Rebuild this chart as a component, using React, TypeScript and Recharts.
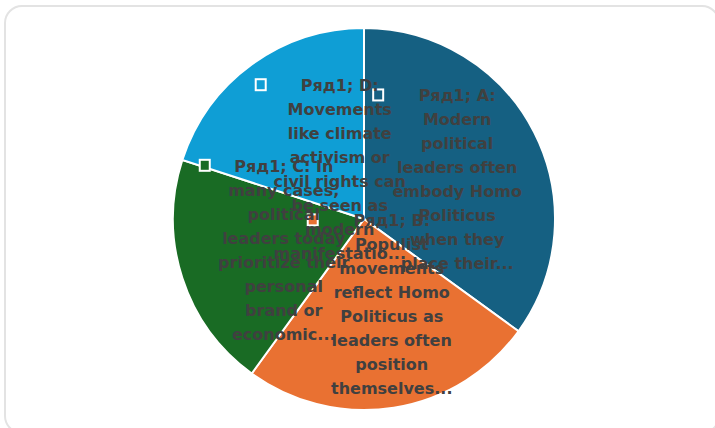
import React from 'react';
import { PieChart, Pie, Cell } from 'recharts';

// --- Data ---
const seriesName = 'Ряд1';
const categories = [
  'A:\nModern\npolitical\nleaders often\nembody Homo\nPoliticus\nwhen they\nplace their...',
  'B:\nPopulist\nmovements\nreflect Homo\nPoliticus as\nleaders often\nposition\nthemselves...',
  'C: In\nmany cases,\npolitical\nleaders today\nprioritize their\npersonal\nbrand or\neconomic...',
  'D:\nMovements\nlike climate\nactivism or\ncivil rights can\nbe seen as\nmodern\nmanifestatio...',
];
const values = [35, 25, 20, 20];
const colors = ['#156082', '#E97132', '#196B24', '#0F9ED5'];

// Excel "best fit" placement of each data label (radius fraction, angle nudge in deg)
const labelRadius = [0.53, 0.47, 0.45, 0.29];
const labelNudge = [-4, 9, 3, -10];

const data = categories.map((c, i) => ({ name: c, value: values[i] }));

const RAD = Math.PI / 180;
const LINE_H = 24;

const renderLabel = (props: any) => {
  const { cx, cy, midAngle, outerRadius, index } = props;
  const a = (midAngle + labelNudge[index]) * RAD;
  const r = outerRadius * labelRadius[index];
  const x = cx + r * Math.cos(a);
  const yc = cy - r * Math.sin(a);
  const lines = `${seriesName}; ${categories[index]}`.split('\n');
  const y0 = yc - ((lines.length - 1) * LINE_H) / 2;
  return (
    <g key={`lbl-${index}`}>
      <rect
        x={x - 79 - 5}
        y={y0 - 6}
        width={10}
        height={11}
        fill={colors[index]}
        stroke="#ffffff"
        strokeWidth={2}
      />
      <text
        x={x}
        y={y0}
        textAnchor="middle"
        dominantBaseline="central"
        fill="#404040"
        style={{ fontFamily: '"DejaVu Sans", sans-serif', fontWeight: 'bold', fontSize: 16 }}
      >
        {lines.map((ln, i) => (
          <tspan key={i} x={x} dy={i === 0 ? 0 : LINE_H}>
            {ln}
          </tspan>
        ))}
      </text>
    </g>
  );
};

export default function App() {
  return (
    <div style={{ position: 'absolute', left: 0, top: 0, width: 715, height: 428, background: '#ffffff', overflow: 'hidden' }}>
      <div
        style={{
          position: 'absolute',
          left: 4,
          top: 5,
          width: 716,
          height: 429,
          border: '2px solid #e3e3e3',
          borderRadius: 18,
          boxSizing: 'border-box',
        }}
      />
      <div style={{ position: 'absolute', left: 0, top: 0 }}>
        <PieChart width={715} height={428} margin={{ top: 0, right: 0, bottom: 0, left: 0 }}>
          <Pie
            data={data}
            dataKey="value"
            nameKey="name"
            cx={364}
            cy={219}
            outerRadius={191}
            startAngle={90}
            endAngle={-270}
            stroke="#ffffff"
            strokeWidth={2}
            label={renderLabel}
            labelLine={false}
            isAnimationActive={false}
          >
            {data.map((_, i) => (
              <Cell key={i} fill={colors[i]} />
            ))}
          </Pie>
        </PieChart>
      </div>
    </div>
  );
}
